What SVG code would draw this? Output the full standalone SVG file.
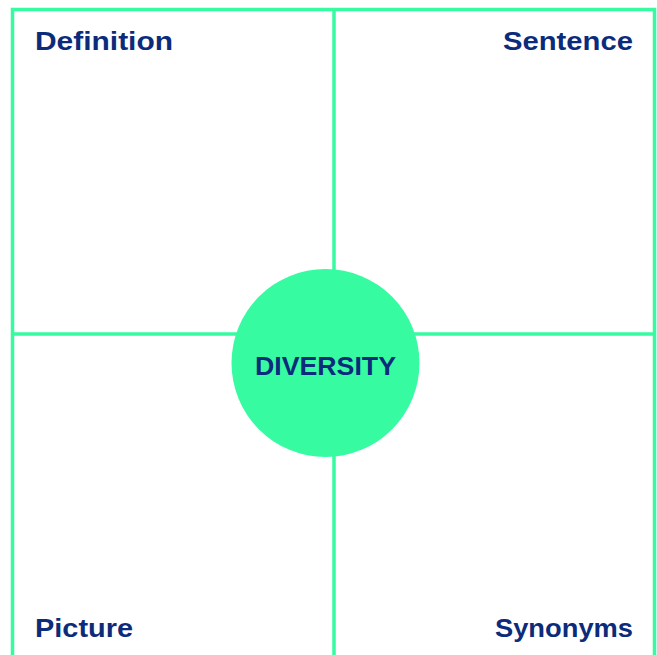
<svg xmlns="http://www.w3.org/2000/svg" width="657" height="655" viewBox="0 0 657 655">
<style>
.ln{stroke:#36FBA1;stroke-width:3.5;fill:none}
.lbl{font-family:"Liberation Sans",Arial,sans-serif;font-weight:bold;font-size:25px;fill:#0C2C7B}
</style>
<rect width="657" height="655" fill="#ffffff"/>
<g id="connectors">
<polyline class="ln" points="12.5,660 12.5,9.5 654.5,9.5 654.5,660"/>
<line class="ln" x1="334" y1="9.5" x2="334" y2="660"/>
<line class="ln" x1="12.5" y1="334" x2="654.5" y2="334"/>
</g>
<g id="definition"><text class="lbl" x="35" y="49.5" textLength="138" lengthAdjust="spacingAndGlyphs">Definition</text></g>
<g id="sentence"><text class="lbl" x="503" y="49.5" textLength="130" lengthAdjust="spacingAndGlyphs">Sentence</text></g>
<g id="picture"><text class="lbl" x="35" y="637" textLength="98" lengthAdjust="spacingAndGlyphs">Picture</text></g>
<g id="synonyms"><text class="lbl" x="495" y="637" textLength="138" lengthAdjust="spacingAndGlyphs">Synonyms</text></g>
<g id="diversity">
<circle cx="325.5" cy="363" r="94" fill="#36FBA1"/>
<text class="lbl" x="255" y="374.5" textLength="141" lengthAdjust="spacingAndGlyphs">DIVERSITY</text>
</g>
</svg>
